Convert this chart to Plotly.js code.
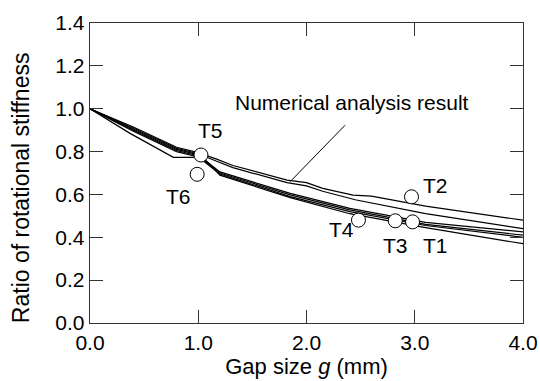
<!DOCTYPE html>
<html>
<head>
<meta charset="utf-8">
<script src="https://cdn.plot.ly/plotly-3.0.1.min.js"></script>
<style>html,body{margin:0;padding:0;background:#fff;}#chart{width:540px;height:381px;}</style>
</head>
<body>
<div id="chart"></div>
<script>
// Numerical analysis curves (gap size g, ratio of rotational stiffness)
const curveA_x = [0, 0.4, 0.8, 1.0, 1.17, 1.32, 1.82, 2.0, 2.15, 2.43, 2.6, 3.1, 4.0];
const curveA_y = [1.0, 0.915, 0.82, 0.795, 0.765, 0.735, 0.667, 0.655, 0.628, 0.597, 0.592, 0.545, 0.48];
const curveB_x = [0, 0.4, 0.8, 1.0, 1.17, 1.32, 1.82, 2.0, 2.15, 2.45, 3.1, 4.0];
const curveB_y = [1.0, 0.91, 0.815, 0.79, 0.755, 0.725, 0.655, 0.64, 0.615, 0.575, 0.51, 0.44];
const curveC_x = [0, 0.4, 0.8, 1.0, 1.2, 1.85, 2.4, 3.1, 4.0];
const curveC_y = [1.0, 0.905, 0.81, 0.785, 0.705, 0.605, 0.535, 0.47, 0.425];
const curveD_x = [0, 0.4, 0.8, 1.0, 1.2, 1.85, 2.4, 3.1, 4.0];
const curveD_y = [1.0, 0.9, 0.805, 0.78, 0.7, 0.598, 0.528, 0.46, 0.41];
const curveE_x = [0, 0.4, 0.8, 1.0, 1.2, 1.85, 2.4, 3.1, 4.0];
const curveE_y = [1.0, 0.895, 0.8, 0.775, 0.695, 0.59, 0.52, 0.455, 0.40];
const curveF_x = [0, 0.37, 0.77, 0.95, 1.03, 1.2, 1.85, 2.4, 3.1, 4.0];
const curveF_y = [1.0, 0.885, 0.773, 0.773, 0.78, 0.69, 0.585, 0.51, 0.445, 0.37];

// Test results
const testNames = ['T1', 'T2', 'T3', 'T4', 'T5', 'T6'];
const testGap = [2.98, 2.97, 2.82, 2.48, 1.025, 0.99];
const testRatio = [0.472, 0.589, 0.477, 0.48, 0.784, 0.694];
const labelX = [3.19, 3.19, 2.82, 2.32, 1.11, 0.82];
const labelY = [0.36, 0.644, 0.363, 0.437, 0.898, 0.592];

const curves = [[curveA_x, curveA_y], [curveB_x, curveB_y], [curveC_x, curveC_y],
                [curveD_x, curveD_y], [curveE_x, curveE_y], [curveF_x, curveF_y]];

const traces = curves.map(c => ({
  x: c[0], y: c[1], type: 'scatter', mode: 'lines',
  line: {color: '#000', width: 1.2}, hoverinfo: 'skip', showlegend: false
}));
traces.push({
  x: testGap, y: testRatio, type: 'scatter', mode: 'markers',
  marker: {size: 14, color: '#fff', line: {color: '#000', width: 1}},
  showlegend: false
});

const FS = 21;
const annotations = testNames.map((n, i) => ({
  x: labelX[i], y: labelY[i], xref: 'x', yref: 'y', text: n, showarrow: false,
  font: {size: FS, color: '#000'}
}));
annotations.push({
  x: 2.42, y: 1.027, xref: 'x', yref: 'y', text: 'Numerical analysis result',
  showarrow: false, font: {size: FS, color: '#000'}
});
annotations.push({
  x: 1.85, y: 0.66, xref: 'x', yref: 'y', ax: 2.37, ay: 0.93, axref: 'x', ayref: 'y',
  text: '', showarrow: true, arrowhead: 0, arrowwidth: 1, arrowcolor: '#000'
});
// y-axis title (placed as annotation to match reference position)
annotations.push({
  x: -0.159, y: 0.45, xref: 'paper', yref: 'paper', text: 'Ratio of rotational stiffness',
  textangle: -90, showarrow: false, font: {size: 23, color: '#000'},
  xanchor: 'center', yanchor: 'middle'
});

const axisCommon = {
  showgrid: false, zeroline: false, showline: true, linecolor: '#333', linewidth: 1.3,
  mirror: 'ticks', ticks: 'inside', ticklen: 13, tickwidth: 1, tickcolor: '#333',
  tickfont: {size: FS, color: '#000'}, tickformat: '.1f'
};

const layout = {
  width: 540, height: 381,
  margin: {l: 90, r: 17, t: 23, b: 58},
  paper_bgcolor: '#fff', plot_bgcolor: '#fff',
  font: {family: 'Liberation Sans, Arial, sans-serif', color: '#000'},
  xaxis: Object.assign({}, axisCommon, {
    range: [0, 4], dtick: 1, tick0: 0,
    title: {text: 'Gap size <i>g</i> (mm)', font: {size: 22}, standoff: 2}
  }),
  yaxis: Object.assign({}, axisCommon, {
    range: [0, 1.4], dtick: 0.2, tick0: 0
  }),
  annotations: annotations
};

Plotly.newPlot('chart', traces, layout, {displayModeBar: false, staticPlot: true});
</script>
</body>
</html>
